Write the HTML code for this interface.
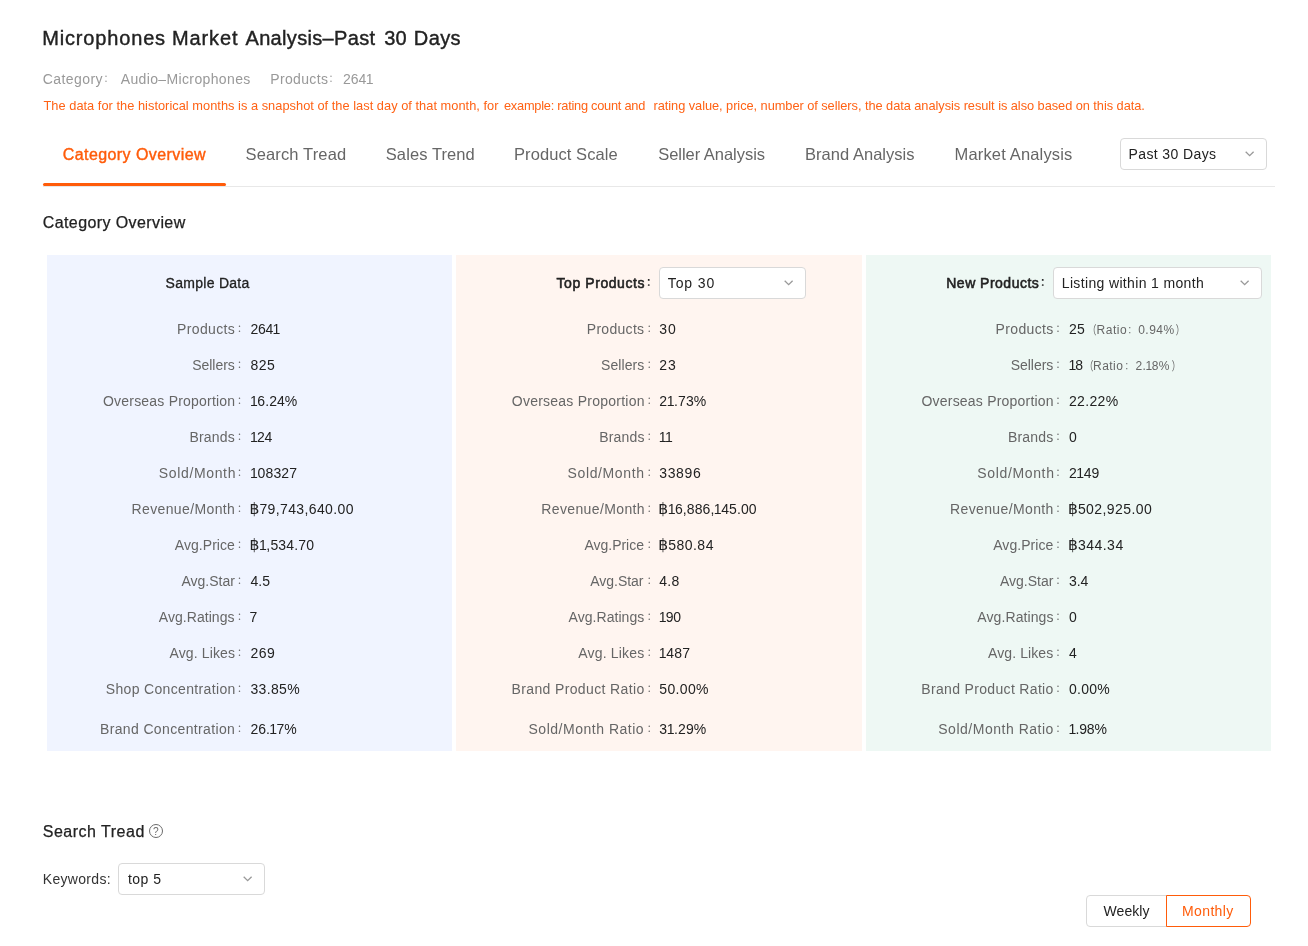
<!DOCTYPE html>
<html lang="en">
<head>
<meta charset="utf-8">
<title>Microphones Market Analysis</title>
<style>
*{box-sizing:border-box;margin:0;padding:0}
h1,h2,h3,p,nav,section,ul,li,small,label,a{display:block;position:static;height:0;font:inherit;list-style:none}
html,body{width:1308px;height:946px;overflow:hidden;background:#fff}
body{font-family:"Liberation Sans","Noto Sans CJK SC","DejaVu Sans",sans-serif;color:#222;position:relative;font-size:14px}
.t{position:absolute;white-space:nowrap;line-height:20px;height:20px}
.c{position:absolute;white-space:nowrap;line-height:20px;height:20px;font-family:"Noto Sans CJK SC","Liberation Sans",sans-serif;font-weight:300}
.b{font-family:"DejaVu Sans",sans-serif;font-size:15.5px;line-height:0;letter-spacing:0}
.o{margin:0 -.5px}
i{display:block;font-style:normal}
.box{position:absolute;border:1px solid #d9d9d9;border-radius:4px;background:#fff}
.chev{position:absolute}
.panel{position:absolute;top:255px;height:496px}
</style>
</head>
<body>

<h1><span class="t" id="ti1" style="left:42.25px;top:28px;font-size:20px;color:#222;letter-spacing:0.834px;-webkit-text-stroke:0.4px #222;">Microphones</span> <span class="t" id="ti2" style="left:172.00px;top:28px;font-size:20px;color:#222;letter-spacing:0.880px;-webkit-text-stroke:0.4px #222;">Market</span> <span class="t" id="ti3" style="left:245.50px;top:28px;font-size:20px;color:#222;letter-spacing:0.331px;-webkit-text-stroke:0.4px #222;">Analysis–Past</span> <span class="t" id="ti4" style="left:384.25px;top:28px;font-size:20px;color:#222;letter-spacing:0.100px;-webkit-text-stroke:0.4px #222;">30</span> <span class="t" id="ti5" style="left:413.75px;top:28px;font-size:20px;color:#222;letter-spacing:0.436px;-webkit-text-stroke:0.4px #222;">Days</span></h1>
<p><span class="t" id="me1" style="left:42.75px;top:69px;font-size:14px;color:#999;letter-spacing:0.432px;">Category</span><span class="c" id="cm1" style="left:103.60px;top:67.80px;font-size:10px;color:#999;font-weight:400;">：</span> <span class="t" id="me2" style="left:120.75px;top:69px;font-size:14px;color:#999;letter-spacing:0.362px;">Audio–Microphones</span> <span class="t" id="me3" style="left:270.25px;top:69px;font-size:14px;color:#999;letter-spacing:0.340px;">Products</span><span class="c" id="cm2" style="left:328.60px;top:67.80px;font-size:10px;color:#999;font-weight:400;">：</span><span class="t" id="me4" style="left:343.00px;top:69px;font-size:14px;color:#999;">264<span class="o">1</span></span></p>
<p><span class="t" id="note1" style="left:43.50px;top:96px;font-size:12.8px;color:#ff6215;letter-spacing:0.031px;">The data for the historical months is a snapshot of the last day of that month, for</span> <span class="t" id="note2" style="left:504.00px;top:96px;font-size:12.8px;color:#ff6215;letter-spacing:-0.247px;">example: rating count and</span> <span class="t" id="note3" style="left:653.50px;top:96px;font-size:12.8px;color:#ff6215;letter-spacing:-0.049px;">rating value, price, number of sellers, the data analysis result is also based on this data.</span></p>
<nav><i style="position:absolute;left:43px;top:186px;width:1232px;height:1px;background:#e8e8e8"></i><i style="position:absolute;left:43px;top:183px;width:183px;height:3px;background:#ff5c0a;border-radius:1.5px"></i><a><span class="t" id="tb1" style="left:62.75px;top:145px;font-size:16px;color:#ff5c0a;letter-spacing:0.419px;-webkit-text-stroke:0.4px #ff5c0a;">Category Overview</span></a> <a><span class="t" id="tb2" style="left:245.50px;top:144px;font-size:16.5px;color:#666;letter-spacing:0.146px;">Search Tread</span></a> <a><span class="t" id="tb3" style="left:385.75px;top:144px;font-size:16.5px;color:#666;letter-spacing:0.100px;">Sales Trend</span></a> <a><span class="t" id="tb4" style="left:514.00px;top:144px;font-size:16.5px;color:#666;letter-spacing:0.084px;">Product Scale</span></a> <a><span class="t" id="tb5" style="left:658.25px;top:144px;font-size:16.5px;color:#666;letter-spacing:-0.036px;">Seller Analysis</span></a> <a><span class="t" id="tb6" style="left:805.00px;top:144px;font-size:16.5px;color:#666;letter-spacing:0.032px;">Brand Analysis</span></a> <a><span class="t" id="tb7" style="left:954.50px;top:144px;font-size:16.5px;color:#666;letter-spacing:0.166px;">Market Analysis</span></a> <label><i class="box" style="left:1120px;top:138px;width:147px;height:32px"></i><svg class="chev" style="left:1244.4px;top:150.3px" width="12" height="8" viewBox="0 0 12 8"><path d="M1.7 1.7L5.65 5.65L9.6 1.7" fill="none" stroke="#999" stroke-width="1.3"/></svg><span class="t" id="s1" style="left:1128.50px;top:144px;font-size:14px;color:#222;letter-spacing:0.391px;">Past 30 Days</span></label></nav>
<h2><span class="t" id="h2a" style="left:42.75px;top:213px;font-size:16px;color:#222;letter-spacing:0.400px;-webkit-text-stroke:0.25px #222;">Category Overview</span></h2>
<section><div class="panel" style="left:47px;width:405px;background:#f0f4ff"></div>
<h3><span class="t" id="ph1" style="left:165.50px;top:273px;font-size:14px;color:#222;letter-spacing:0.290px;-webkit-text-stroke:0.3px #222;">Sample Data</span></h3>
<ul>
<li><span class="t" id="l0_0" style="left:177.00px;top:319px;font-size:14px;color:#666;letter-spacing:0.371px;">Products</span><span class="c" id="c0_0" style="left:237.05px;top:317.80px;font-size:10px;color:#666;font-weight:400;">：</span> <span class="t" id="v0_0" style="left:250.50px;top:319px;font-size:14px;color:#222;letter-spacing:-0.272px;">264<span class="o">1</span></span></li>
<li><span class="t" id="l0_1" style="left:192.25px;top:355px;font-size:14px;color:#666;letter-spacing:-0.048px;">Sellers</span><span class="c" id="c0_1" style="left:237.05px;top:353.80px;font-size:10px;color:#666;font-weight:400;">：</span> <span class="t" id="v0_1" style="left:250.50px;top:355px;font-size:14px;color:#222;letter-spacing:0.457px;">825</span></li>
<li><span class="t" id="l0_2" style="left:103.00px;top:391px;font-size:14px;color:#666;letter-spacing:0.206px;">Overseas Proportion</span><span class="c" id="c0_2" style="left:237.05px;top:389.80px;font-size:10px;color:#666;font-weight:400;">：</span> <span class="t" id="v0_2" style="left:250.50px;top:391px;font-size:14px;color:#222;letter-spacing:0.057px;"><span class="o">1</span>6.24%</span></li>
<li><span class="t" id="l0_3" style="left:189.50px;top:427px;font-size:14px;color:#666;letter-spacing:0.180px;">Brands</span><span class="c" id="c0_3" style="left:237.05px;top:425.80px;font-size:10px;color:#666;font-weight:400;">：</span> <span class="t" id="v0_3" style="left:250.50px;top:427px;font-size:14px;color:#222;letter-spacing:-0.338px;"><span class="o">1</span>24</span></li>
<li><span class="t" id="l0_4" style="left:158.75px;top:463px;font-size:14px;color:#666;letter-spacing:0.653px;">Sold/Month</span><span class="c" id="c0_4" style="left:237.05px;top:461.80px;font-size:10px;color:#666;font-weight:400;">：</span> <span class="t" id="v0_4" style="left:250.50px;top:463px;font-size:14px;color:#222;letter-spacing:0.176px;"><span class="o">1</span>08327</span></li>
<li><span class="t" id="l0_5" style="left:131.50px;top:499px;font-size:14px;color:#666;letter-spacing:0.375px;">Revenue/Month</span><span class="c" id="c0_5" style="left:237.05px;top:497.80px;font-size:10px;color:#666;font-weight:400;">：</span> <span class="t" id="v0_5" style="left:249.50px;top:499px;font-size:14px;color:#222;letter-spacing:0.384px;"><span class="b">฿</span>79,743,640.00</span></li>
<li><span class="t" id="l0_6" style="left:174.75px;top:535px;font-size:14px;color:#666;letter-spacing:0.059px;">Avg.Price</span><span class="c" id="c0_6" style="left:237.05px;top:533.80px;font-size:10px;color:#666;font-weight:400;">：</span> <span class="t" id="v0_6" style="left:249.50px;top:535px;font-size:14px;color:#222;letter-spacing:0.172px;"><span class="b">฿</span><span class="o">1</span>,534.70</span></li>
<li><span class="t" id="l0_7" style="left:181.50px;top:571px;font-size:14px;color:#666;">Avg.Star</span><span class="c" id="c0_7" style="left:237.05px;top:569.80px;font-size:10px;color:#666;font-weight:400;">：</span> <span class="t" id="v0_7" style="left:250.50px;top:571px;font-size:14px;color:#222;letter-spacing:0.007px;">4.5</span></li>
<li><span class="t" id="l0_8" style="left:158.75px;top:607px;font-size:14px;color:#666;letter-spacing:0.053px;">Avg.Ratings</span><span class="c" id="c0_8" style="left:237.05px;top:605.80px;font-size:10px;color:#666;font-weight:400;">：</span> <span class="t" id="v0_8" style="left:249.50px;top:607px;font-size:14px;color:#222;">7</span></li>
<li><span class="t" id="l0_9" style="left:169.50px;top:643px;font-size:14px;color:#666;letter-spacing:0.122px;">Avg. Likes</span><span class="c" id="c0_9" style="left:237.05px;top:641.80px;font-size:10px;color:#666;font-weight:400;">：</span> <span class="t" id="v0_9" style="left:250.50px;top:643px;font-size:14px;color:#222;letter-spacing:0.457px;">269</span></li>
<li><span class="t" id="l0_10" style="left:105.75px;top:679px;font-size:14px;color:#666;letter-spacing:0.341px;">Shop Concentration</span><span class="c" id="c0_10" style="left:237.05px;top:677.80px;font-size:10px;color:#666;font-weight:400;">：</span> <span class="t" id="v0_10" style="left:250.50px;top:679px;font-size:14px;color:#222;letter-spacing:0.328px;">33.85%</span></li>
<li><span class="t" id="l0_11" style="left:100.00px;top:719px;font-size:14px;color:#666;letter-spacing:0.356px;">Brand Concentration</span><span class="c" id="c0_11" style="left:237.05px;top:717.80px;font-size:10px;color:#666;font-weight:400;">：</span> <span class="t" id="v0_11" style="left:250.50px;top:719px;font-size:14px;color:#222;letter-spacing:-0.043px;">26.<span class="o">1</span>7%</span></li>
</ul>
</section>
<section><div class="panel" style="left:456px;width:406px;background:#fff5f0"></div>
<h3><span class="t" id="ph2" style="left:556.50px;top:273px;font-size:14px;color:#222;letter-spacing:0.573px;-webkit-text-stroke:0.55px #222;">Top Products</span><span class="c" id="cp2" style="left:646.35px;top:272.30px;font-size:10px;color:#222;font-weight:700;">：</span> <label><i class="box" style="left:659px;top:267px;width:147px;height:32px"></i><svg class="chev" style="left:783.2px;top:279.2px" width="12" height="8" viewBox="0 0 12 8"><path d="M1.7 1.7L5.65 5.65L9.6 1.7" fill="none" stroke="#999" stroke-width="1.3"/></svg><span class="t" id="s2" style="left:667.75px;top:273px;font-size:14px;color:#222;letter-spacing:0.880px;">Top 30</span></label></h3>
<ul>
<li><span class="t" id="l1_0" style="left:586.75px;top:319px;font-size:14px;color:#666;letter-spacing:0.303px;">Products</span><span class="c" id="c1_0" style="left:646.80px;top:317.80px;font-size:10px;color:#666;font-weight:400;">：</span> <span class="t" id="v1_0" style="left:659.25px;top:319px;font-size:14px;color:#222;letter-spacing:0.992px;">30</span></li>
<li><span class="t" id="l1_1" style="left:601.00px;top:355px;font-size:14px;color:#666;letter-spacing:0.072px;">Sellers</span><span class="c" id="c1_1" style="left:646.80px;top:353.80px;font-size:10px;color:#666;font-weight:400;">：</span> <span class="t" id="v1_1" style="left:659.25px;top:355px;font-size:14px;color:#222;letter-spacing:0.992px;">23</span></li>
<li><span class="t" id="l1_2" style="left:511.75px;top:391px;font-size:14px;color:#666;letter-spacing:0.244px;">Overseas Proportion</span><span class="c" id="c1_2" style="left:646.80px;top:389.80px;font-size:10px;color:#666;font-weight:400;">：</span> <span class="t" id="v1_2" style="left:659.25px;top:391px;font-size:14px;color:#222;letter-spacing:0.097px;">2<span class="o">1</span>.73%</span></li>
<li><span class="t" id="l1_3" style="left:599.25px;top:427px;font-size:14px;color:#666;letter-spacing:0.180px;">Brands</span><span class="c" id="c1_3" style="left:646.80px;top:425.80px;font-size:10px;color:#666;font-weight:400;">：</span> <span class="t" id="v1_3" style="left:659.25px;top:427px;font-size:14px;color:#222;letter-spacing:-0.450px;"><span class="o">1</span><span class="o">1</span></span></li>
<li><span class="t" id="l1_4" style="left:567.50px;top:463px;font-size:14px;color:#666;letter-spacing:0.631px;">Sold/Month</span><span class="c" id="c1_4" style="left:646.80px;top:461.80px;font-size:10px;color:#666;font-weight:400;">：</span> <span class="t" id="v1_4" style="left:659.25px;top:463px;font-size:14px;color:#222;letter-spacing:0.644px;">33896</span></li>
<li><span class="t" id="l1_5" style="left:541.25px;top:499px;font-size:14px;color:#666;letter-spacing:0.375px;">Revenue/Month</span><span class="c" id="c1_5" style="left:646.80px;top:497.80px;font-size:10px;color:#666;font-weight:400;">：</span> <span class="t" id="v1_5" style="left:658.25px;top:499px;font-size:14px;color:#222;letter-spacing:0.072px;"><span class="b">฿</span><span class="o">1</span>6,886,<span class="o">1</span>45.00</span></li>
<li><span class="t" id="l1_6" style="left:584.50px;top:535px;font-size:14px;color:#666;letter-spacing:-0.026px;">Avg.Price</span><span class="c" id="c1_6" style="left:646.80px;top:533.80px;font-size:10px;color:#666;font-weight:400;">：</span> <span class="t" id="v1_6" style="left:658.25px;top:535px;font-size:14px;color:#222;letter-spacing:0.499px;"><span class="b">฿</span>580.84</span></li>
<li><span class="t" id="l1_7" style="left:590.25px;top:571px;font-size:14px;color:#666;letter-spacing:-0.029px;">Avg.Star</span><span class="c" id="c1_7" style="left:646.80px;top:569.80px;font-size:10px;color:#666;font-weight:400;">：</span> <span class="t" id="v1_7" style="left:659.25px;top:571px;font-size:14px;color:#222;letter-spacing:0.257px;">4.8</span></li>
<li><span class="t" id="l1_8" style="left:568.50px;top:607px;font-size:14px;color:#666;letter-spacing:0.053px;">Avg.Ratings</span><span class="c" id="c1_8" style="left:646.80px;top:605.80px;font-size:10px;color:#666;font-weight:400;">：</span> <span class="t" id="v1_8" style="left:659.25px;top:607px;font-size:14px;color:#222;letter-spacing:-0.254px;"><span class="o">1</span>90</span></li>
<li><span class="t" id="l1_9" style="left:578.25px;top:643px;font-size:14px;color:#666;letter-spacing:0.178px;">Avg. Likes</span><span class="c" id="c1_9" style="left:646.80px;top:641.80px;font-size:10px;color:#666;font-weight:400;">：</span> <span class="t" id="v1_9" style="left:659.25px;top:643px;font-size:14px;color:#222;letter-spacing:0.194px;"><span class="o">1</span>487</span></li>
<li><span class="t" id="l1_10" style="left:511.50px;top:679px;font-size:14px;color:#666;letter-spacing:0.369px;">Brand Product Ratio</span><span class="c" id="c1_10" style="left:646.80px;top:677.80px;font-size:10px;color:#666;font-weight:400;">：</span> <span class="t" id="v1_10" style="left:659.25px;top:679px;font-size:14px;color:#222;letter-spacing:0.368px;">50.00%</span></li>
<li><span class="t" id="l1_11" style="left:528.50px;top:719px;font-size:14px;color:#666;letter-spacing:0.516px;">Sold/Month Ratio</span><span class="c" id="c1_11" style="left:646.80px;top:717.80px;font-size:10px;color:#666;font-weight:400;">：</span> <span class="t" id="v1_11" style="left:659.25px;top:719px;font-size:14px;color:#222;letter-spacing:0.097px;">3<span class="o">1</span>.29%</span></li>
</ul>
</section>
<section><div class="panel" style="left:866px;width:405px;background:#eef8f4"></div>
<h3><span class="t" id="ph3" style="left:946.25px;top:273px;font-size:14px;color:#222;letter-spacing:0.491px;-webkit-text-stroke:0.55px #222;">New Products</span><span class="c" id="cp3" style="left:1040.35px;top:272.30px;font-size:10px;color:#222;font-weight:700;">：</span> <label><i class="box" style="left:1053px;top:267px;width:209px;height:32px"></i><svg class="chev" style="left:1239.4px;top:279.2px" width="12" height="8" viewBox="0 0 12 8"><path d="M1.7 1.7L5.65 5.65L9.6 1.7" fill="none" stroke="#999" stroke-width="1.3"/></svg><span class="t" id="s3" style="left:1061.75px;top:273px;font-size:14px;color:#222;letter-spacing:0.353px;">Listing within 1 month</span></label></h3>
<ul>
<li><span class="t" id="l2_0" style="left:995.50px;top:319px;font-size:14px;color:#666;letter-spacing:0.371px;">Products</span><span class="c" id="c2_0" style="left:1055.55px;top:317.80px;font-size:10px;color:#666;font-weight:400;">：</span> <span class="t" id="v2_0" style="left:1069.00px;top:319px;font-size:14px;color:#222;letter-spacing:0.292px;">25</span> <small><span class="c" id="pa1x" style="left:1086.40px;top:319.90px;font-size:12px;color:#666;font-weight:400;transform:scaleX(.72);">（</span><span class="t" id="ra1" style="left:1096.50px;top:320px;font-size:12px;color:#666;letter-spacing:0.551px;">Ratio</span><span class="c" id="pa2" style="left:1127.50px;top:319.60px;font-size:9px;color:#666;font-weight:400;">：</span><span class="t" id="ra2" style="left:1138.25px;top:320px;font-size:12px;color:#666;letter-spacing:0.450px;">0.94%</span><span class="c" id="pa3x" style="left:1174.40px;top:319.90px;font-size:12px;color:#666;font-weight:400;transform:scaleX(.72);">）</span></small></li>
<li><span class="t" id="l2_1" style="left:1010.75px;top:355px;font-size:14px;color:#666;letter-spacing:-0.046px;">Sellers</span><span class="c" id="c2_1" style="left:1055.55px;top:353.80px;font-size:10px;color:#666;font-weight:400;">：</span> <span class="t" id="v2_1" style="left:1069.00px;top:355px;font-size:14px;color:#222;letter-spacing:-0.450px;"><span class="o">1</span>8</span> <small><span class="c" id="pb1x" style="left:1083.00px;top:355.90px;font-size:12px;color:#666;font-weight:400;transform:scaleX(.72);">（</span><span class="t" id="rb1" style="left:1093.10px;top:356px;font-size:12px;color:#666;letter-spacing:0.431px;">Ratio</span><span class="c" id="pb2" style="left:1124.50px;top:355.60px;font-size:9px;color:#666;font-weight:400;">：</span><span class="t" id="rb2" style="left:1135.60px;top:356px;font-size:12px;color:#666;letter-spacing:0.170px;">2.<span class="o">1</span>8%</span><span class="c" id="pb3x" style="left:1169.60px;top:355.90px;font-size:12px;color:#666;font-weight:400;transform:scaleX(.72);">）</span></small></li>
<li><span class="t" id="l2_2" style="left:921.50px;top:391px;font-size:14px;color:#666;letter-spacing:0.206px;">Overseas Proportion</span><span class="c" id="c2_2" style="left:1055.55px;top:389.80px;font-size:10px;color:#666;font-weight:400;">：</span> <span class="t" id="v2_2" style="left:1069.00px;top:391px;font-size:14px;color:#222;letter-spacing:0.328px;">22.22%</span></li>
<li><span class="t" id="l2_3" style="left:1008.00px;top:427px;font-size:14px;color:#666;letter-spacing:0.180px;">Brands</span><span class="c" id="c2_3" style="left:1055.55px;top:425.80px;font-size:10px;color:#666;font-weight:400;">：</span> <span class="t" id="v2_3" style="left:1069.00px;top:427px;font-size:14px;color:#222;">0</span></li>
<li><span class="t" id="l2_4" style="left:977.25px;top:463px;font-size:14px;color:#666;letter-spacing:0.653px;">Sold/Month</span><span class="c" id="c2_4" style="left:1055.55px;top:461.80px;font-size:10px;color:#666;font-weight:400;">：</span> <span class="t" id="v2_4" style="left:1069.00px;top:463px;font-size:14px;color:#222;letter-spacing:0.028px;">2<span class="o">1</span>49</span></li>
<li><span class="t" id="l2_5" style="left:950.00px;top:499px;font-size:14px;color:#666;letter-spacing:0.375px;">Revenue/Month</span><span class="c" id="c2_5" style="left:1055.55px;top:497.80px;font-size:10px;color:#666;font-weight:400;">：</span> <span class="t" id="v2_5" style="left:1068.00px;top:499px;font-size:14px;color:#222;letter-spacing:0.426px;"><span class="b">฿</span>502,925.00</span></li>
<li><span class="t" id="l2_6" style="left:993.25px;top:535px;font-size:14px;color:#666;letter-spacing:0.038px;">Avg.Price</span><span class="c" id="c2_6" style="left:1055.55px;top:533.80px;font-size:10px;color:#666;font-weight:400;">：</span> <span class="t" id="v2_6" style="left:1068.00px;top:535px;font-size:14px;color:#222;letter-spacing:0.499px;"><span class="b">฿</span>344.34</span></li>
<li><span class="t" id="l2_7" style="left:1000.00px;top:571px;font-size:14px;color:#666;">Avg.Star</span><span class="c" id="c2_7" style="left:1055.55px;top:569.80px;font-size:10px;color:#666;font-weight:400;">：</span> <span class="t" id="v2_7" style="left:1069.00px;top:571px;font-size:14px;color:#222;letter-spacing:-0.093px;">3.4</span></li>
<li><span class="t" id="l2_8" style="left:977.25px;top:607px;font-size:14px;color:#666;letter-spacing:0.102px;">Avg.Ratings</span><span class="c" id="c2_8" style="left:1055.55px;top:605.80px;font-size:10px;color:#666;font-weight:400;">：</span> <span class="t" id="v2_8" style="left:1069.00px;top:607px;font-size:14px;color:#222;">0</span></li>
<li><span class="t" id="l2_9" style="left:988.00px;top:643px;font-size:14px;color:#666;letter-spacing:0.100px;">Avg. Likes</span><span class="c" id="c2_9" style="left:1055.55px;top:641.80px;font-size:10px;color:#666;font-weight:400;">：</span> <span class="t" id="v2_9" style="left:1069.00px;top:643px;font-size:14px;color:#222;">4</span></li>
<li><span class="t" id="l2_10" style="left:921.25px;top:679px;font-size:14px;color:#666;letter-spacing:0.335px;">Brand Product Ratio</span><span class="c" id="c2_10" style="left:1055.55px;top:677.80px;font-size:10px;color:#666;font-weight:400;">：</span> <span class="t" id="v2_10" style="left:1069.00px;top:679px;font-size:14px;color:#222;letter-spacing:0.248px;">0.00%</span></li>
<li><span class="t" id="l2_11" style="left:938.25px;top:719px;font-size:14px;color:#666;letter-spacing:0.516px;">Sold/Month Ratio</span><span class="c" id="c2_11" style="left:1055.55px;top:717.80px;font-size:10px;color:#666;font-weight:400;">：</span> <span class="t" id="v2_11" style="left:1069.00px;top:719px;font-size:14px;color:#222;letter-spacing:-0.212px;"><span class="o">1</span>.98%</span></li>
</ul>
</section>
<h2><span class="t" id="h2b" style="left:42.75px;top:822px;font-size:16px;color:#222;letter-spacing:0.498px;-webkit-text-stroke:0.25px #222;">Search Tread</span><svg style="position:absolute;left:149px;top:824px" width="14" height="14" viewBox="0 0 14 14"><circle cx="7" cy="7" r="6.5" fill="none" stroke="#6b6b6b" stroke-width="1"/><text x="6.95" y="10.7" font-size="10.2" text-anchor="middle" fill="#6b6b6b" font-family="Liberation Sans, sans-serif">?</text></svg></h2>
<p><span class="t" id="kw" style="left:42.75px;top:869px;font-size:14px;color:#333;letter-spacing:0.315px;">Keywords:</span> <label><i class="box" style="left:118px;top:863px;width:147px;height:32px"></i><svg class="chev" style="left:241.9px;top:875.2px" width="12" height="8" viewBox="0 0 12 8"><path d="M1.7 1.7L5.65 5.65L9.6 1.7" fill="none" stroke="#999" stroke-width="1.3"/></svg><span class="t" id="s4" style="left:128.00px;top:869px;font-size:14px;color:#222;letter-spacing:0.450px;">top 5</span></label></p>
<p><i class="box" style="left:1086px;top:895px;width:81px;height:32px;border-radius:4px 0 0 4px"></i><span class="t" id="wk" style="left:1103.60px;top:901px;font-size:14px;color:#222;letter-spacing:0.048px;">Weekly</span> <i class="box" style="left:1166px;top:895px;width:85px;height:32px;border-radius:0 4px 4px 0;border-color:#ff5c0a"></i><span class="t" id="mo" style="left:1182.10px;top:901px;font-size:14px;color:#ff5c0a;letter-spacing:0.349px;">Monthly</span></p>
</body>
</html>
